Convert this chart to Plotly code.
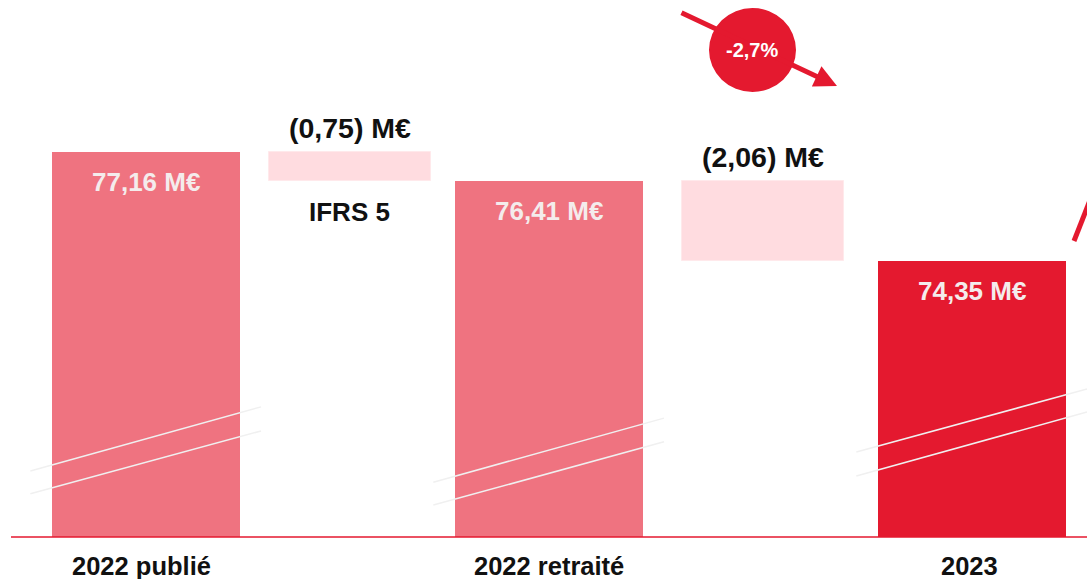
import plotly.graph_objects as go

# ---- data ----
categories = ["2022 publié", "IFRS 5", "2022 retraité", "Variation", "2023"]
total_cats = ["2022 publié", "2022 retraité", "2023"]
total_values = [77.16, 76.41, 74.35]
delta_cats = ["IFRS 5", "Variation"]
delta_values = [-0.75, -2.06]
delta_bases = [77.16, 76.41]
axis_labels = ["2022 publié", "2022 retraité", "2023"]
variation_label = "-2,7%"

W, H = 1087, 579
PLOT_H = 537
Y0, Y1 = 67.237, 81.077
UNIT = 206.5  # px per category
SHIFT_PX = {"2022 publié": 0, "IFRS 5": -2.5, "2022 retraité": -10, "Variation": -2.5, "2023": 0}
LABEL_SHIFT_PX = {"2022 publié": -4, "2022 retraité": 0, "2023": -2}

def fr(v):
    return f"{abs(v):.2f}".replace(".", ",")

def idx(c):
    return categories.index(c)

def pos(c):
    return idx(c) + SHIFT_PX[c] / UNIT

PINK = "#EF7380"
RED = "#E4192F"
LIGHT = "#FFDCE0"
FONT = "Liberation Sans, Arial, sans-serif"
MAIN_W, DELTA_W = 0.91, 0.78

fig = go.Figure()
fig.add_trace(go.Bar(
    x=[idx(c) for c in total_cats], y=total_values, base=0, width=MAIN_W,
    offset=[-MAIN_W / 2 + SHIFT_PX[c] / UNIT for c in total_cats],
    marker=dict(color=[PINK, PINK, RED], line=dict(width=0)),
    hoverinfo="skip", showlegend=False))
fig.add_trace(go.Bar(
    x=[idx(c) for c in delta_cats], y=delta_values, base=delta_bases, width=DELTA_W,
    offset=[-DELTA_W / 2 + SHIFT_PX[c] / UNIT for c in delta_cats],
    marker=dict(color=LIGHT, line=dict(color="#FFE9EB", width=1)),
    hoverinfo="skip", showlegend=False))

annotations = []
for c, v in zip(total_cats, total_values):
    annotations.append(dict(x=pos(c), y=v, xref="x", yref="y", text=f"{fr(v)} M€",
                            showarrow=False, xanchor="center", yanchor="middle", yshift=-30,
                            font=dict(family=FONT, size=26, color="#F4ECEC", weight="bold")))
for c, v, b in zip(delta_cats, delta_values, delta_bases):
    annotations.append(dict(x=pos(c), y=b, xref="x", yref="y", text=f"({fr(v)}) M€",
                            showarrow=False, xanchor="center", yanchor="middle", yshift=24,
                            font=dict(family=FONT, size=28.5, color="#111111", weight="bold")))
annotations.append(dict(x=pos(delta_cats[0]), y=delta_bases[0] + delta_values[0], xref="x", yref="y",
                        text=delta_cats[0], showarrow=False, xanchor="center", yanchor="middle", yshift=-31,
                        font=dict(family=FONT, size=26, color="#111111", weight="bold")))
for c in axis_labels:
    annotations.append(dict(x=pos(c) + LABEL_SHIFT_PX[c] / UNIT, y=0, xref="x", yref="paper", text=c,
                            showarrow=False, xanchor="center", yanchor="middle", yshift=-29,
                            font=dict(family=FONT, size=25.5, color="#111111", weight="bold")))

def px(xp):
    return xp / W
def py(yp):
    return 1 - yp / PLOT_H

# arrow (decline)
annotations.append(dict(x=px(837), y=py(86), xref="paper", yref="paper",
                        ax=680 - 837, ay=12 - 86, axref="pixel", ayref="pixel",
                        showarrow=True, arrowhead=2, arrowsize=0.9, arrowwidth=5,
                        arrowcolor=RED, text=""))
annotations.append(dict(x=px(752), y=py(50), xref="paper", yref="paper",
                        text=variation_label, showarrow=False, xanchor="center", yanchor="middle",
                        font=dict(family=FONT, size=20, color="white", weight="bold")))

shapes = []
shapes.append(dict(type="line", xref="paper", yref="paper", x0=px(11), x1=1, y0=0, y1=0,
                   line=dict(color=RED, width=1.5), layer="above"))
shapes.append(dict(type="circle", xref="paper", yref="paper",
                   x0=px(709), x1=px(796), y0=py(92), y1=py(8),
                   fillcolor=RED, line=dict(color=RED, width=0), layer="above"))
shapes.append(dict(type="line", xref="paper", yref="paper", x0=px(1074), y0=py(241),
                   x1=px(1094), y1=py(190), line=dict(color=RED, width=5), layer="above"))

# axis-break marks (decoration)
breaks = [("2022 publié", 68.94, 70.59, 68.35, 69.97),
          ("2022 retraité", 68.65, 70.30, 68.06, 69.69),
          ("2023", 69.43, 71.05, 68.81, 70.46)]
for c, a0, a1, b0, b1 in breaks:
    p = pos(c)
    for y0, y1 in ((a0, a1), (b0, b1)):
        shapes.append(dict(type="line", xref="x", yref="y", x0=p - 0.56, x1=p + 0.557,
                           y0=y0, y1=y1, line=dict(color="#F0F0F0", width=1.5), layer="above"))

fig.update_layout(
    width=W, height=H, margin=dict(l=0, r=0, t=0, b=H - PLOT_H),
    paper_bgcolor="white", plot_bgcolor="white", bargap=0,
    xaxis=dict(range=[-0.707, 4.557], showticklabels=False, showgrid=False,
               zeroline=False, showline=False, ticks=""),
    yaxis=dict(range=[Y0, Y1], visible=False, showgrid=False, zeroline=False),
    annotations=annotations, shapes=shapes, barmode="overlay",
)
fig.write_html("out.html", config={"displayModeBar": False},
               post_script="document.body.style.margin='0';document.body.style.overflow='hidden';")
